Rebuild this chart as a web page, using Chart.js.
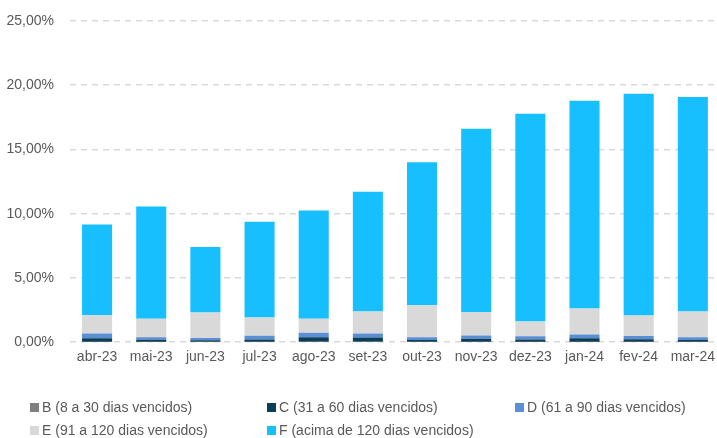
<!DOCTYPE html>
<html>
<head>
<meta charset="utf-8">
<script src="https://cdn.jsdelivr.net/npm/chart.js@4/dist/chart.umd.min.js"></script>
<style>
	html, body { margin: 0; padding: 0; background: #fff; overflow: hidden; width: 717px; height: 438px; }
	#wrap { position: absolute; left: 0; top: 0; width: 722px; height: 373px; }
	#legend { position: absolute; left: 0; top: 0; width: 717px; height: 438px; pointer-events: none;
		font-family: "Liberation Sans Narrow", "Arial Narrow", "Liberation Sans", sans-serif; font-size: 14px; color: #595959; }
	.item { position: absolute; white-space: nowrap; line-height: 18px; }
	.box { position: absolute; left: -12px; top: 5px; width: 9px; height: 9px; }
</style>
</head>
<body>
<div id="wrap"><canvas id="chart"></canvas></div>
<div id="legend"></div>
<script>
var months = ["abr-23", "mai-23", "jun-23", "jul-23", "ago-23", "set-23", "out-23", "nov-23", "dez-23", "jan-24", "fev-24", "mar-24"];

var serie_b = [0.02, 0.02, 0.02, 0.02, 0.03, 0.03, 0.02, 0.02, 0.02, 0.02, 0.02, 0.02];
var serie_c = [0.29, 0.18, 0.14, 0.19, 0.36, 0.33, 0.16, 0.24, 0.19, 0.29, 0.21, 0.16];
var serie_d = [0.36, 0.18, 0.16, 0.29, 0.34, 0.31, 0.21, 0.26, 0.26, 0.29, 0.26, 0.21];
var serie_e = [1.43, 1.44, 1.99, 1.42, 1.09, 1.72, 2.49, 1.84, 1.14, 2.02, 1.59, 2.00];
var serie_f = [7.07, 8.75, 5.09, 7.46, 8.44, 9.32, 11.12, 14.26, 16.18, 16.18, 17.26, 16.69];

var y_ticks = [0, 5, 10, 15, 20, 25];

var FONT = "'Liberation Sans Narrow', 'Arial Narrow', 'Liberation Sans', sans-serif";

function pct(v) {
	return v.toFixed(2).replace(".", ",") + "%";
}

function make_set(label, data, color) {
	return {
		label: label,
		data: data,
		backgroundColor: color,
		borderWidth: 0,
		barPercentage: 0.555,
		categoryPercentage: 1.0
	};
}

var ctx = document.getElementById('chart').getContext('2d');
var chart = new Chart(ctx, {
	type: 'bar',
	data: {
		labels: months,
		datasets: [
			make_set("B (8 a 30 dias vencidos)", serie_b, "#7f7f7f"),
			make_set("C (31 a 60 dias vencidos)", serie_c, "#0a3e59"),
			make_set("D (61 a 90 dias vencidos)", serie_d, "#5a8fd6"),
			make_set("E (91 a 120 dias vencidos)", serie_e, "#d9d9d9"),
			make_set("F (acima de 120 dias vencidos)", serie_f, "#17bfff")
		]
	},
	options: {
		responsive: true,
		maintainAspectRatio: false,
		animation: false,
		layout: { padding: { top: 21, right: 0, left: 0, bottom: 0 } },
		plugins: {
			legend: { display: false },
			tooltip: { enabled: false }
		},
		scales: {
			x: {
				stacked: true,
				grid: { display: false, drawTicks: false },
				border: { display: false },
				ticks: {
					color: "#595959",
					font: { family: FONT, size: 14 },
					padding: 7,
					maxRotation: 0,
					autoSkip: false
				}
			},
			y: {
				stacked: true,
				min: 0,
				max: 25,
				afterFit: function (scale) {
					scale.width = 70;
					scale.paddingTop = 0;
					scale.paddingBottom = 0;
				},
				afterBuildTicks: function (scale) {
					scale.ticks = y_ticks.map(function (v) { return { value: v }; });
				},
				grid: {
					color: "#d9d9d9",
					lineWidth: 1.5,
					drawTicks: false
				},
				border: { display: false, dash: [6, 5] },
				ticks: {
					color: "#595959",
					font: { family: FONT, size: 14 },
					padding: 16,
					callback: function (v) { return pct(v); }
				}
			}
		}
	}
});

// legend in three fixed columns, like the original
var cols = [42, 279, 527];
var rows = [398, 421];
var leg = document.getElementById('legend');
chart.data.datasets.forEach(function (ds, i) {
	var item = document.createElement('div');
	item.className = 'item';
	item.style.left = cols[i % 3] + 'px';
	item.style.top = rows[Math.floor(i / 3)] + 'px';
	var box = document.createElement('span');
	box.className = 'box';
	box.style.background = ds.backgroundColor;
	item.appendChild(box);
	item.appendChild(document.createTextNode(ds.label));
	leg.appendChild(item);
});
</script>
</body>
</html>
